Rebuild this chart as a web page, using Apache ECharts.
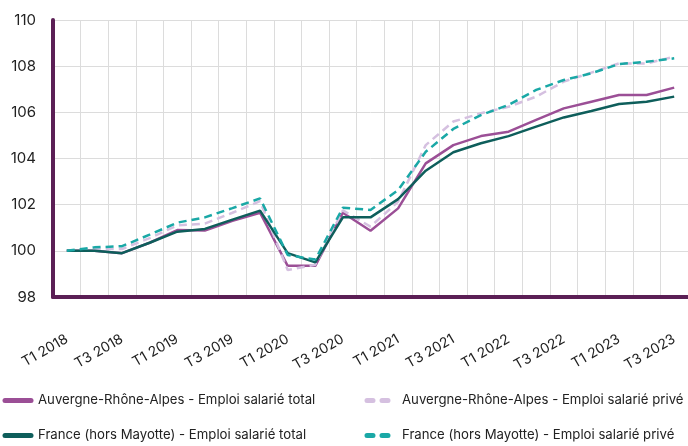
<!DOCTYPE html>
<html>
<head>
<meta charset="utf-8">
<script src="https://cdn.jsdelivr.net/npm/echarts@6/dist/echarts.min.js"></script>
<style>
  html, body { margin: 0; padding: 0; background: #fff; }
  #chart { width: 688px; height: 446px; }
</style>
</head>
<body>
<div id="chart"></div>
<script>
// trimestres T1 2018 -> T3 2023
const categories = [
  'T1 2018', 'T2 2018', 'T3 2018', 'T4 2018',
  'T1 2019', 'T2 2019', 'T3 2019', 'T4 2019',
  'T1 2020', 'T2 2020', 'T3 2020', 'T4 2020',
  'T1 2021', 'T2 2021', 'T3 2021', 'T4 2021',
  'T1 2022', 'T2 2022', 'T3 2022', 'T4 2022',
  'T1 2023', 'T2 2023', 'T3 2023'
];

const auraTotal = [100.0, 100.0, 99.9, 100.35, 100.9, 100.88, 101.3, 101.65, 99.35, 99.35, 101.65, 100.87,
  101.84, 103.79, 104.58, 104.97, 105.16, 105.67, 106.17, 106.46, 106.75, 106.75, 107.07];
const auraPrive = [100.0, 100.08, 100.08, 100.55, 101.1, 101.18, 101.65, 102.15, 99.17, 99.4, 101.75, 101.05,
  102.13, 104.58, 105.6, 105.96, 106.24, 106.68, 107.33, 107.72, 108.12, 108.12, 108.41];
const franceTotal = [100.0, 100.0, 99.9, 100.35, 100.83, 100.95, 101.35, 101.74, 99.9, 99.5, 101.45, 101.45,
  102.24, 103.47, 104.27, 104.66, 104.97, 105.38, 105.78, 106.06, 106.36, 106.46, 106.68];
const francePrive = [100.0, 100.15, 100.2, 100.7, 101.22, 101.45, 101.85, 102.27, 99.82, 99.62, 101.87, 101.77,
  102.63, 104.29, 105.28, 105.88, 106.32, 106.97, 107.4, 107.69, 108.09, 108.19, 108.34];

const names = [
  'Auvergne-Rhône-Alpes - Emploi salarié total',
  'Auvergne-Rhône-Alpes - Emploi salarié privé',
  'France (hors Mayotte) - Emploi salarié total',
  'France (hors Mayotte) - Emploi salarié privé'
];
const colors = ['#9b4f96', '#d5c0e0', '#0e5e5b', '#1aa8a6'];

const font = 'Inter, "Noto Sans", sans-serif';

function legendItem(name, left, top, dashed) {
  return {
    data: [name],
    left: left,
    top: top,
    padding: 0,
    itemWidth: dashed ? 30 : 26,
    itemHeight: 14,
    itemStyle: { opacity: 0 },
    lineStyle: {
      width: 5,
      cap: 'round',
      type: dashed ? [6, 9] : 'solid'
    },
    textStyle: {
      fontFamily: font,
      fontSize: 13.2,
      color: '#222',
      padding: [0, 0, 0, dashed ? 0 : 2]
    }
  };
}

const chart = echarts.init(document.getElementById('chart'));

const option = {
  animation: false,
  color: colors,
  grid: { left: 53, right: 0, top: 20, bottom: 149 },
  legend: [
    legendItem(names[0], 2.5, 394, false),
    legendItem(names[1], 364.5, 394, true),
    legendItem(names[2], 2.5, 429, false),
    legendItem(names[3], 364.5, 429, true)
  ],
  xAxis: {
    type: 'category',
    data: categories,
    boundaryGap: true,
    axisLine: { show: true, lineStyle: { color: '#5b1f55', width: 4 } },
    axisTick: { show: false },
    axisLabel: {
      interval: 1,
      rotate: 30,
      margin: 41,
      fontFamily: font,
      fontSize: 14,
      color: '#222'
    },
    splitLine: { show: true, interval: 0, lineStyle: { color: '#dcdcdc', width: 1 } }
  },
  yAxis: {
    type: 'value',
    min: 98,
    max: 110,
    interval: 2,
    axisLine: { show: true, lineStyle: { color: '#5b1f55', width: 4 } },
    axisTick: { show: false },
    axisLabel: {
      margin: 17,
      fontFamily: font,
      fontSize: 15,
      color: '#222'
    },
    splitLine: { show: true, lineStyle: { color: '#dcdcdc', width: 1 } }
  },
  series: [
    { name: names[0], type: 'line', data: auraTotal, symbol: 'none', lineStyle: { width: 2.5 } },
    { name: names[1], type: 'line', data: auraPrive, symbol: 'none', lineStyle: { width: 2.5, type: [8, 5] } },
    { name: names[2], type: 'line', data: franceTotal, symbol: 'none', lineStyle: { width: 2.5 } },
    { name: names[3], type: 'line', data: francePrive, symbol: 'none', lineStyle: { width: 2.5, type: [8, 5] } }
  ]
};

chart.setOption(option);
</script>
</body>
</html>
